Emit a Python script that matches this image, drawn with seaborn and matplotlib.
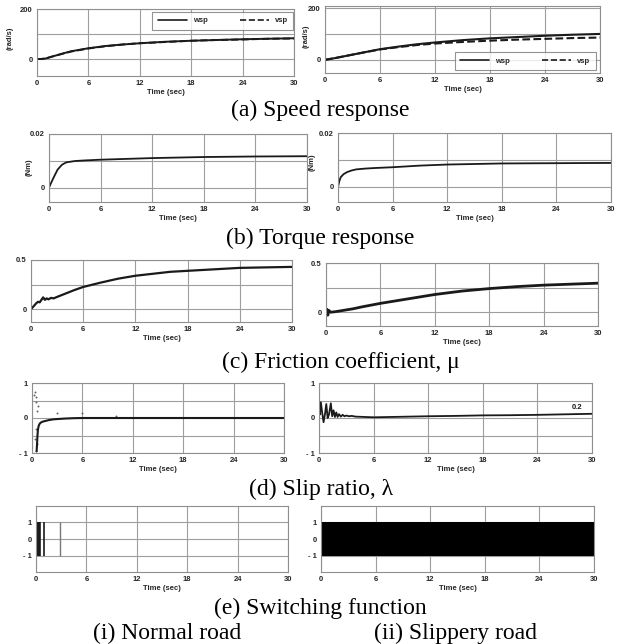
import matplotlib
matplotlib.use("Agg")
import matplotlib.pyplot as plt
from matplotlib.lines import Line2D
import seaborn as sns

# ---- data ----
# (a) speed response
speed_t = [0, 0.5, 1, 2, 3, 4, 6, 8, 10, 12, 15, 18, 21, 24, 27, 30]
normal_wsp = [0, 0, 2, 12, 22, 31, 43, 52, 58, 63, 69, 73, 76, 79, 81, 83]
normal_vsp = [0, 0, 2, 12, 21, 30, 42, 51, 58, 63, 68, 73, 76, 78, 81, 82]
slippery_wsp = [0, 3, 6, 13, 20, 27, 41, 51, 60, 67, 76, 83, 88, 93, 97, 100]
slippery_vsp = [0, 3, 6, 13, 20, 27, 40, 49, 57, 63, 69, 74, 78, 81, 84, 86]

# (b) torque response
normal_torque_t = [0, 0.5, 1, 1.5, 2, 3, 4, 6, 9, 12, 15, 18, 24, 30]
normal_torque = [0, 0.0035, 0.0067, 0.0085, 0.0094, 0.0099, 0.0101, 0.0104,
                 0.0107, 0.011, 0.0112, 0.0114, 0.0116, 0.0117]
slippery_torque_t = [0, 0.15, 0.3, 0.6, 1, 1.5, 2, 3, 4, 6, 9, 12, 15, 18, 24, 30]
slippery_torque = [0, 0.0022, 0.0036, 0.0047, 0.0055, 0.0061, 0.0065, 0.0068,
                   0.007, 0.0073, 0.0079, 0.0083, 0.0085, 0.0087, 0.0088, 0.0089]

# (c) friction coefficient
normal_mu_t = [0, 0.3, 0.6, 0.8, 1.0, 1.2, 1.4, 1.6, 1.8, 2.0, 2.3, 2.6, 3.0, 4, 5,
               6, 8, 10, 12, 14, 16, 18, 21, 24, 27, 30]
normal_mu = [0, 0.03, 0.06, 0.075, 0.07, 0.095, 0.12, 0.095, 0.11, 0.1, 0.115,
             0.11, 0.125, 0.16, 0.195, 0.226, 0.27, 0.31, 0.34, 0.36, 0.38,
             0.39, 0.405, 0.42, 0.425, 0.43]
slippery_mu_t = [0, 0.1, 0.2, 0.3, 0.5, 1, 2, 3, 4, 6, 8, 10, 12, 15, 18, 21,
                 24, 27, 30]
slippery_mu = [0, 0.03, -0.03, 0.02, 0, 0.005, 0.02, 0.035, 0.055, 0.09, 0.12,
               0.15, 0.18, 0.215, 0.24, 0.26, 0.275, 0.285, 0.295]

# (d) slip ratio
normal_slip_t = [0.55, 0.6, 0.65, 0.7, 0.75, 0.8, 0.9, 1.0, 1.2, 1.5, 2, 2.5, 3,
                 4, 5, 6, 10, 15, 20, 25, 30]
normal_slip = [-0.95, -0.75, -0.5, -0.35, -0.28, -0.22, -0.17, -0.14, -0.11,
               -0.09, -0.06, -0.04, -0.03, -0.015, -0.005, 0, 0, 0, 0, 0, 0]
normal_dots_t = [0.25, 0.35, 0.45, 0.5, 0.55, 0.4, 0.6, 0.5, 0.45, 3, 6, 10, 0.7]
normal_dots = [0.65, 0.75, 0.6, 0.45, 0.2, -0.6, -0.75, -0.3, -0.95, 0.15,
               0.15, 0.05, 0.35]
slippery_slip_t = [0, 0.1, 0.2, 0.35, 0.5, 0.65, 0.8, 0.95, 1.1, 1.3, 1.45, 1.6,
                   1.75, 1.9, 2.05, 2.2, 2.4, 2.6, 2.8, 3.0, 3.3, 3.6, 4, 5, 6,
                   8, 10, 12, 15, 18, 21, 24, 27, 30]
slippery_slip = [0.5, 0.1, 0.45, 0.15, -0.12, 0.1, 0.4, 0.0, 0.1, 0.42, 0.05,
                 0.22, 0.03, 0.16, 0.03, 0.11, 0.04, 0.09, 0.05, 0.07, 0.05, 0.06,
                 0.04, 0.03, 0.02, 0.03, 0.04, 0.05, 0.06, 0.075, 0.08, 0.09,
                 0.105, 0.12]

# (e) switching function
normal_switch_t = [0.05, 0.1, 0.15, 0.2, 0.25, 0.3, 0.35, 0.4, 0.45, 0.95]
normal_switch_late_t = [2.8]
slippery_switch_t = [0, 30]
slippery_switch_lo = [-1, -1]
slippery_switch_hi = [1, 1]

W, H = 617, 644
INK = "#1a1a1a"
TICK_FONT = dict(family="Liberation Sans", size=5.5, weight="bold")

sns.set_style("white")
plt.rcParams["font.family"] = ["Liberation Sans", "DejaVu Sans"]

fig = plt.figure(figsize=(W / 100, H / 100), dpi=100)


def make_axes(l, t, r, b, ylim, yticks, ylabels):
    ax = fig.add_axes([l / W, 1 - b / H, (r - l) / W, (b - t) / H])
    ax.set_xlim(0, 30)
    ax.set_ylim(*ylim)
    ax.set_xticks([0, 6, 12, 18, 24, 30])
    ax.set_yticks(yticks)
    ax.set_yticklabels(ylabels)
    ax.grid(True, color="#9e9e9e", lw=0.8)
    ax.set_axisbelow(True)
    for s in ax.spines.values():
        s.set_color("#8f8f8f")
        s.set_linewidth(0.8)
    ax.tick_params(length=0, pad=3)
    for lab in ax.get_xticklabels() + ax.get_yticklabels():
        lab.set_fontproperties(TICK_FONT)
    ax.set_xlabel("Time (sec)", fontdict=TICK_FONT, labelpad=1)
    ax.set_ylabel("")
    return ax


def speed_legend(ax, loc, anchor):
    handles = [Line2D([], [], color=INK, lw=1.2),
               Line2D([], [], color=INK, lw=1.2, ls="--")]
    leg = ax.legend(handles, ["wsp", "vsp"], ncol=2, loc=loc,
                    bbox_to_anchor=anchor, borderaxespad=0, fancybox=False,
                    handlelength=3.8, columnspacing=4.2, borderpad=0.7,
                    prop=TICK_FONT)
    leg.get_frame().set_edgecolor("#777777")
    leg.get_frame().set_linewidth(0.8)


# (a) speed
ax = make_axes(37, 9, 294, 76, (-68, 200), [0, 100, 200], ["0", "", "200"])
sns.lineplot(x=speed_t, y=normal_wsp, ax=ax, color=INK, lw=1.4)
sns.lineplot(x=speed_t, y=normal_vsp, ax=ax, color=INK, lw=1.4, ls="--")
speed_legend(ax, "upper right", (0.997, 0.96))
ax = make_axes(325, 6, 600, 73, (-51, 208), [0, 100, 200], ["0", "", "200"])
sns.lineplot(x=speed_t, y=slippery_wsp, ax=ax, color=INK, lw=1.5)
sns.lineplot(x=speed_t, y=slippery_vsp, ax=ax, color=INK, lw=1.5, ls="--")
speed_legend(ax, "lower right", (0.985, 0.045))

# (b) torque
ax = make_axes(49, 134, 307, 202, (-0.0054, 0.02), [0, 0.01, 0.02], ["0", "", "0.02"])
sns.lineplot(x=normal_torque_t, y=normal_torque, ax=ax, color=INK, lw=1.3)
ax = make_axes(338, 133, 611, 202, (-0.0056, 0.02), [0, 0.01, 0.02], ["0", "", "0.02"])
sns.lineplot(x=slippery_torque_t, y=slippery_torque, ax=ax, color=INK, lw=1.3)

# (c) friction
ax = make_axes(31, 260, 292, 322, (-0.13, 0.5), [0, 0.25, 0.5], ["0", "", "0.5"])
sns.lineplot(x=normal_mu_t, y=normal_mu, ax=ax, color=INK, lw=1.6)
ax = make_axes(326, 263, 598, 326, (-0.14, 0.5), [0, 0.25, 0.5], ["0", "", "0.5"])
sns.lineplot(x=slippery_mu_t, y=slippery_mu, ax=ax, color=INK, lw=2.0)

# (d) slip ratio
d_ticks = [-1, -0.5, 0, 0.5, 1]
d_labels = ["- 1", "", "0", "", "1"]
ax = make_axes(32, 383, 284, 453, (-1, 1), d_ticks, d_labels)
sns.lineplot(x=normal_slip_t, y=normal_slip, ax=ax, color=INK, lw=1.5)
sns.scatterplot(x=normal_dots_t, y=normal_dots, ax=ax, color="#666666", s=2,
                linewidth=0)
ax = make_axes(319, 383, 592, 453, (-1, 1), d_ticks, d_labels)
sns.lineplot(x=slippery_slip_t, y=slippery_slip, ax=ax, color=INK, lw=1.3)
ax.text(27.8, 0.27, "0.2", fontdict=TICK_FONT, color=INK)

# (e) switching function
e_ticks = [-1, 0, 1]
e_labels = ["- 1", "0", "1"]
ax = make_axes(36, 506, 288, 572, (-1.95, 1.95), e_ticks, e_labels)
ax.vlines(normal_switch_t, -1, 1, color=INK, lw=1.2)
ax.vlines(normal_switch_late_t, -1, 1, color="#777777", lw=1.0)
ax = make_axes(321, 506, 594, 572, (-1.95, 1.95), e_ticks, e_labels)
ax.fill_between(slippery_switch_t, slippery_switch_lo, slippery_switch_hi,
                color="black", lw=0)

# y-axis unit labels
for x, y, txt in [(10, 38, "(rad/s)"), (306, 36, "(rad/s)"),
                  (29, 167, "(Nm)"), (312, 162, "(Nm)")]:
    fig.text(x / W, 1 - y / H, txt, rotation=90, ha="center", va="center",
             fontdict=TICK_FONT)

# captions
CAP = dict(family="Liberation Serif", size=17, ha="center", va="center",
           color="black")
captions = [(320, 110, "(a) Speed response"),
            (320, 238, "(b) Torque response"),
            (341, 362, "(c) Friction coefficient, \u03bc"),
            (321, 489, "(d) Slip ratio, \u03bb"),
            (320, 608, "(e) Switching function"),
            (167, 633, "(i) Normal road"),
            (456, 633, "(ii) Slippery road")]
for x, y, txt in captions:
    fig.text(x / W, 1 - y / H, txt, **CAP)

fig.savefig("out.png", dpi=100)
